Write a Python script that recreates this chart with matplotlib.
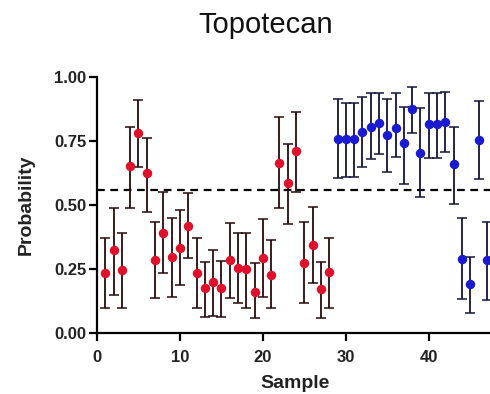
import matplotlib
matplotlib.use('Agg')
import matplotlib.pyplot as plt

plt.rcParams['font.family'] = ['Liberation Sans', 'DejaVu Sans']

# ------------------------------------------------------------
# Data (probability with error range)
# ------------------------------------------------------------
red_samples = list(range(1, 29))
red_prob = [0.236, 0.324, 0.246, 0.652, 0.782, 0.624, 0.285, 0.390,
            0.298, 0.333, 0.419, 0.233, 0.174, 0.200, 0.177, 0.285,
            0.253, 0.250, 0.161, 0.294, 0.227, 0.663, 0.585, 0.712,
            0.275, 0.344, 0.170, 0.240]
red_low = [0.096, 0.148, 0.096, 0.490, 0.647, 0.474, 0.138, 0.233,
           0.139, 0.188, 0.292, 0.096, 0.064, 0.066, 0.064, 0.137,
           0.116, 0.096, 0.057, 0.142, 0.096, 0.487, 0.426, 0.552,
           0.116, 0.194, 0.057, 0.096]
red_high = [0.370, 0.490, 0.390, 0.806, 0.910, 0.760, 0.435, 0.552,
            0.448, 0.480, 0.546, 0.372, 0.279, 0.324, 0.280, 0.428,
            0.390, 0.390, 0.272, 0.444, 0.363, 0.843, 0.740, 0.865,
            0.435, 0.493, 0.279, 0.372]

blue_samples = list(range(29, 49))
blue_prob = [0.756, 0.756, 0.756, 0.786, 0.806, 0.822, 0.773, 0.800,
             0.743, 0.874, 0.704, 0.816, 0.816, 0.825, 0.660, 0.288,
             0.190, 0.754, 0.285, 0.756]
blue_low = [0.604, 0.608, 0.608, 0.647, 0.678, 0.699, 0.630, 0.686,
            0.582, 0.780, 0.530, 0.682, 0.682, 0.708, 0.504, 0.132,
            0.077, 0.600, 0.129, 0.600]
blue_high = [0.913, 0.897, 0.897, 0.923, 0.936, 0.936, 0.913, 0.936,
             0.884, 0.962, 0.878, 0.936, 0.936, 0.943, 0.806, 0.448,
             0.298, 0.907, 0.435, 0.910]

THRESHOLD = 0.558
X_TICKS = [0, 10, 20, 30, 40]
Y_TICKS = [0.0, 0.25, 0.5, 0.75, 1.0]
Y_TICK_LABELS = ['0.00', '0.25', '0.50', '0.75', '1.00']


def draw_group(ax, xs, ys, lows, highs, color, bar_color):
    err = [[y - lo for y, lo in zip(ys, lows)],
           [hi - y for y, hi in zip(ys, highs)]]
    ax.errorbar(xs, ys, yerr=err, fmt='o', color=color, markersize=5.8,
                ecolor=bar_color, elinewidth=1.3, capsize=3.5,
                capthick=1.1, clip_on=False, zorder=3)


fig = plt.figure(figsize=(4.90, 3.94), dpi=100)
# axes run past the right edge of the figure, as in the cropped reference
ax = fig.add_axes([97 / 490, 61 / 394, 423 / 490, 256 / 394])

ax.axhline(THRESHOLD, color='black', linestyle=(0, (3.5, 2.5)),
           linewidth=1.6, zorder=2)

draw_group(ax, red_samples, red_prob, red_low, red_high,
           '#e0102a', '#2a0a0a')
draw_group(ax, blue_samples, blue_prob, blue_low, blue_high,
           '#1a1ad0', '#14143c')

ax.set_xlim(0, 51.0)
ax.set_ylim(0, 1.0)
ax.set_xticks(X_TICKS)
ax.set_yticks(Y_TICKS)
ax.set_yticklabels(Y_TICK_LABELS)

for side in ['top', 'right']:
    ax.spines[side].set_visible(False)
for side in ['left', 'bottom']:
    ax.spines[side].set_linewidth(1.6)

ax.tick_params(axis='both', direction='out', length=6, width=1.6,
               labelsize=12)
ax.tick_params(axis='x', pad=6)
ax.tick_params(axis='y', pad=1.5)
for label in ax.get_xticklabels() + ax.get_yticklabels():
    label.set_fontweight('bold')
    label.set_color('#222222')

ax.set_ylabel('Probability', fontsize=14, fontweight='bold', color='#222222')
ax.yaxis.set_label_coords(-0.147, 0.5)
ax.set_xlabel('Sample', fontsize=14, fontweight='bold', color='#222222')
ax.xaxis.set_label_coords(23.9 / 51.0, -0.164)

fig.text(266 / 490, 1 - 33 / 394, 'Topotecan', fontsize=21,
         ha='center', va='baseline', color='#111111')

fig.savefig('out.png', dpi=100)
